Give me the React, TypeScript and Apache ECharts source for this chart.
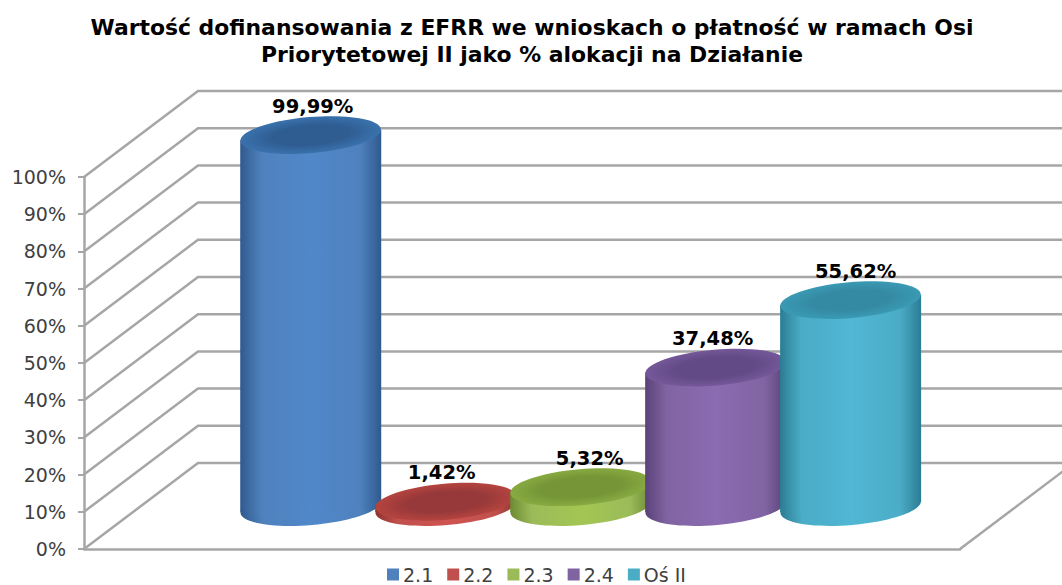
import React, { useEffect, useRef } from "react";
import * as echarts from "echarts";

const titleLines = [
  "Wartość dofinansowania z EFRR we wnioskach o płatność w ramach Osi",
  "Priorytetowej II jako % alokacji na Działanie",
];
const seriesNames = ["2.1", "2.2", "2.3", "2.4", "Oś II"];
const seriesValues = [99.99, 1.42, 5.32, 37.48, 55.62];
const wallTicks = [0, 10, 20, 30, 40, 50, 60, 70, 80, 90, 100];
const legendColors = ["#4f81bd", "#c0504d", "#9bbb59", "#8064a2", "#4bacc6"];
const edgeColors = ["#2f5a8e", "#8f3431", "#6d8a33", "#5a4278", "#2a7d93"];
const midColors = ["#5088ca", "#cf5451", "#a3c653", "#8b6bb1", "#50b7d4"];
const capEdge = ["#3a72ad", "#b5443f", "#88aa42", "#75589a", "#3a9ab4"];
const capMid = ["#2f5d92", "#97393a", "#759536", "#614a85", "#358aa3"];
const labelShift = [2, -4, 9, -3, 5];

const GREY = "#a6a6a6";
const DEPTH_X = 114;
const DEPTH_Y = 86;
const BAR_DX = 58;
const BAR_DY = 42;
const RX = 70.5;
const RY = 18;
const TILT = 0.085;
const SLANT = 5;
const X_MIN = -1.25;
const X_MAX = 5.24;

const fmt = (v: number) => v.toFixed(2).replace(".", ",") + "%";

function App() {
  const ref = useRef<HTMLDivElement>(null);
  useEffect(() => {
    const chart = echarts.init(ref.current!, null, { renderer: "svg" });

    const wallSeries = {
      type: "custom",
      silent: true,
      clip: false,
      z: 1,
      data: wallTicks.map((t) => [X_MIN, t]),
      renderItem: (_p: any, api: any) => {
        const front = api.coord([api.value(0), api.value(1)]);
        const back = [front[0] + DEPTH_X, front[1] - DEPTH_Y];
        const children: any[] = [
          {
            type: "polyline",
            shape: { points: [front, back, [1100, back[1]]] },
            style: { stroke: GREY, lineWidth: 2.5, fill: "none" },
          },
        ];
        if (api.value(1) === 0) {
          const corner = api.coord([X_MAX, 0]);
          children.push({
            type: "line",
            shape: { x1: corner[0], y1: corner[1], x2: corner[0] + DEPTH_X, y2: corner[1] - DEPTH_Y },
            style: { stroke: GREY, lineWidth: 2.5 },
          });
        }
        return { type: "group", children };
      },
    };

    const cylinders = seriesNames.map((name, i) => ({
      type: "custom",
      name,
      clip: false,
      z: 3 + i,
      itemStyle: { color: legendColors[i] },
      data: [[i, seriesValues[i]]],
      renderItem: (_p: any, api: any) => {
        const top = api.coord([api.value(0), api.value(1)]);
        const base = api.coord([api.value(0), 0]);
        const cx = top[0] + BAR_DX;
        const yTop = top[1] - BAR_DY;
        const yBase = base[1] - BAR_DY;
        const body = new echarts.graphic.LinearGradient(0, 0, 1, 0, [
          { offset: 0, color: edgeColors[i] },
          { offset: 0.15, color: legendColors[i] },
          { offset: 0.5, color: midColors[i] },
          { offset: 0.85, color: legendColors[i] },
          { offset: 1, color: edgeColors[i] },
        ]);
        const cap = new echarts.graphic.RadialGradient(0.5, 0.5, 0.5, [
          { offset: 0, color: capMid[i] },
          { offset: 0.55, color: capMid[i] },
          { offset: 1, color: capEdge[i] },
        ]);
        return {
          type: "group",
          children: [
            {
              type: "ellipse",
              x: cx,
              y: yBase,
              rotation: TILT,
              shape: { cx: 0, cy: 0, rx: RX, ry: RY },
              style: { fill: body },
            },
            {
              type: "polygon",
              shape: {
                points: [
                  [cx - RX, yTop + SLANT],
                  [cx + RX, yTop - SLANT],
                  [cx + RX, yBase - SLANT],
                  [cx - RX, yBase + SLANT],
                ],
              },
              style: { fill: body },
            },
            {
              type: "ellipse",
              x: cx,
              y: yTop,
              rotation: TILT,
              shape: { cx: 0, cy: 0, rx: RX, ry: RY },
              style: { fill: cap },
            },
            {
              type: "text",
              x: cx + labelShift[i],
              y: yTop - 29,
              style: {
                text: fmt(api.value(1)),
                align: "center",
                verticalAlign: "middle",
                fontFamily: "DejaVu Sans",
                fontWeight: "bold",
                fontSize: 19.5,
                fill: "#000",
              },
            },
          ],
        };
      },
    }));

    chart.setOption({
      animation: false,
      backgroundColor: "#fff",
      title: {
        text: titleLines.join("\n"),
        left: 527,
        top: 9,
        textAlign: "center",
        textStyle: {
          fontFamily: "DejaVu Sans",
          fontWeight: "bold",
          fontSize: 21.9,
          lineHeight: 27,
          color: "#000",
        },
      },
      legend: {
        data: seriesNames,
        left: 382,
        bottom: -4,
        icon: "rect",
        itemWidth: 12,
        itemHeight: 12,
        itemGap: 14,
        textStyle: { fontFamily: "DejaVu Sans", fontSize: 19, color: "#404040", padding: [0, 0, 0, -1] },
      },
      grid: { left: 84, top: 177, width: 876, height: 372 },
      xAxis: {
        type: "value",
        min: X_MIN,
        max: X_MAX,
        axisLabel: { show: false },
        axisTick: { show: false },
        splitLine: { show: false },
        axisLine: { show: true, onZero: false, lineStyle: { color: GREY, width: 2.5 } },
      },
      yAxis: {
        type: "value",
        min: 0,
        max: 100,
        interval: 10,
        axisLabel: {
          formatter: "{value}%",
          fontFamily: "DejaVu Sans",
          fontSize: 19,
          color: "#404040",
          margin: 18,
        },
        axisTick: { show: true, length: 6, lineStyle: { color: GREY, width: 2 } },
        splitLine: { show: false },
        axisLine: { show: true, onZero: false, lineStyle: { color: GREY, width: 2.5 } },
      },
      series: [wallSeries, ...cylinders],
    });
    return () => chart.dispose();
  }, []);
  return <div ref={ref} style={{ position: "fixed", left: 0, top: 0, width: 1062, height: 585 }} />;
}

export default App;
